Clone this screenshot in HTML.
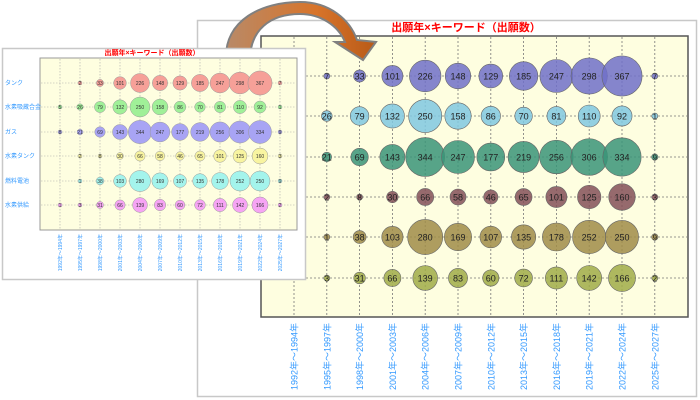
<!DOCTYPE html>
<html><head><meta charset="utf-8"><style>
html,body{margin:0;padding:0;background:#fff;width:700px;height:400px;overflow:hidden}
svg text{font-family:"Liberation Sans","Noto Sans CJK JP",sans-serif}
</style></head><body>
<svg id="s" width="700" height="400" xmlns="http://www.w3.org/2000/svg">
<defs><linearGradient id="g" x1="0" x2="1" y1="0" y2="0"><stop offset="0" stop-color="#b88a68"/><stop offset="0.6" stop-color="#d8742a"/><stop offset="1" stop-color="#b85a18"/></linearGradient></defs>
<rect x="197.5" y="20.5" width="499" height="376" fill="#fff" stroke="#c8c8c8" stroke-width="1.5"/>
<text x="466" y="31" font-size="11" font-weight="bold" fill="#f00" text-anchor="middle">出願年×キーワード（出願数）</text>
<rect x="261" y="36" width="427" height="281" fill="#fefee0" stroke="#555" stroke-width="1.5"/>
<g id="big"></g>
<path d="M226,60 C224,20 262,2 300,2 C330,2 350,20 357,40 L376,42 L363,60 L335,42 L345,42 C338,25 320,14 300,14 C270,14 250,30 250,60 Z" fill="url(#g)" stroke="#808080" stroke-width="2"/>
<rect x="2.5" y="48.5" width="303" height="231" fill="#fff" stroke="#c8c8c8" stroke-width="1.5"/>
<text x="152" y="55" font-size="7" font-weight="bold" fill="#f00" text-anchor="middle">出願年×キーワード（出願数）</text>
<rect x="40" y="58" width="257" height="172" fill="#fefee0" stroke="#999" stroke-width="1"/>
<g id="small"></g>
</svg>
<script>
var NS="http://www.w3.org/2000/svg";
function el(p,t,a,txt){var e=document.createElementNS(NS,t);for(var k in a)e.setAttribute(k,a[k]);if(txt!=null)e.textContent=txt;p.appendChild(e);return e;}
var years=["1992年～1994年","1995年～1997年","1998年～2000年","2001年～2003年","2004年～2006年","2007年～2009年","2010年～2012年","2013年～2015年","2016年～2018年","2019年～2021年","2022年～2024年","2025年～2027年"];
var B=document.getElementById("big");
var bx=[],i;for(i=0;i<12;i++)bx.push(294+i*32.8);
var by=[76,116,157,197,237,278];
var bdata=[[null,7,33,101,226,148,129,185,247,298,367,7],[null,26,79,132,250,158,86,70,81,110,92,1],[null,21,69,143,344,247,177,219,256,306,334,9],[null,2,8,30,66,58,46,65,101,125,160,3],[null,1,38,103,280,169,107,135,178,252,250,9],[null,3,31,66,139,83,60,72,111,142,166,2]];
var bcol=["#7070c8","#80c8e0","#3a9478","#845058","#a08c48","#a0ac48"];
for(i=0;i<12;i++){el(B,"line",{x1:bx[i],x2:bx[i],y1:37,y2:316,stroke:"#777","stroke-dasharray":"2,2","stroke-width":0.8});
 el(B,"text",{x:0,y:0,transform:"translate("+(bx[i]+3.5)+",323) rotate(-90)","text-anchor":"end","font-size":"9",fill:"#3399ff"},years[i]);}
for(var r=0;r<6;r++){el(B,"line",{x1:262,x2:687,y1:by[r],y2:by[r],stroke:"#777","stroke-dasharray":"2,2","stroke-width":0.8});}
for(r=0;r<6;r++)for(i=0;i<12;i++){var v=bdata[r][i];if(v==null)continue;var rad=Math.max(3,1.05*Math.sqrt(v));
 el(B,"circle",{cx:bx[i],cy:by[r],r:rad,fill:bcol[r],"fill-opacity":0.85,stroke:"#666","stroke-width":0.6});
 el(B,"text",{x:bx[i],y:by[r]+3.5,"text-anchor":"middle","font-size":v<10?"8":"9",fill:"#222"},v);}
var S=document.getElementById("small");
var sx=[];for(i=0;i<12;i++)sx.push(60+i*20);
var sy=[83,107,132,156,181,205];
var labels=["タンク","水素吸蔵合金","ガス","水素タンク","燃料電池","水素供給"];
var sdata=[[null,2,33,101,226,148,129,185,247,298,367,7],[5,26,79,132,250,158,86,70,81,110,92,1],[8,21,69,143,344,247,177,219,256,306,334,9],[null,2,8,30,66,58,46,65,101,125,160,3],[null,1,38,103,280,169,107,135,178,252,250,9],[1,3,31,66,139,83,60,72,111,142,166,2]];
var scol=["#f6a098","#a0f098","#a8a4f4","#f8f4a0","#a4f4ec","#f6a4f4"];
for(i=0;i<12;i++){el(S,"line",{x1:sx[i],x2:sx[i],y1:59,y2:229,stroke:"#aaa","stroke-dasharray":"1.5,1.5","stroke-width":0.6});
 el(S,"text",{x:0,y:0,transform:"translate("+(sx[i]+2)+",234) rotate(-90)","text-anchor":"end","font-size":"5",fill:"#3399ff"},years[i]);}
for(r=0;r<6;r++){el(S,"line",{x1:41,x2:296,y1:sy[r],y2:sy[r],stroke:"#aaa","stroke-dasharray":"1.5,1.5","stroke-width":0.6});
 el(S,"text",{x:5,y:sy[r]+2,"font-size":"6",fill:"#3399ff"},labels[r]);}
for(r=0;r<6;r++)for(i=0;i<12;i++){var v=sdata[r][i];if(v==null)continue;var rad=Math.max(2,0.63*Math.sqrt(v));
 el(S,"circle",{cx:sx[i],cy:sy[r],r:rad,fill:scol[r],stroke:"#999","stroke-width":0.5});
 el(S,"text",{x:sx[i],y:sy[r]+2,"text-anchor":"middle","font-size":"5",fill:"#333"},v);}
</script>
</body></html>
